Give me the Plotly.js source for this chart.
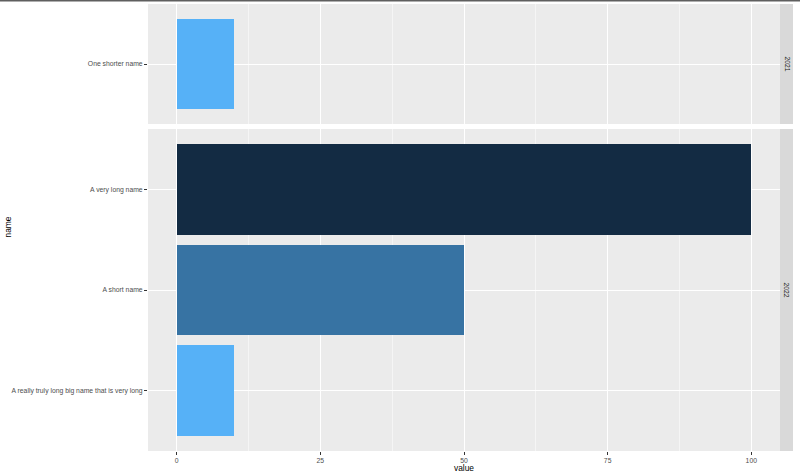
<!DOCTYPE html>
<html>
<head>
<meta charset="utf-8">
<script src="https://cdn.plot.ly/plotly-3.0.1.min.js"></script>
<style>html,body{margin:0;padding:0;background:#fff;}#chart{width:800px;height:476px;}</style>
</head>
<body>
<div id="chart"></div>
<script>
// ---- data ----
const years = ["2021", "2022", "2022", "2022"];
const names = ["One shorter name", "A very long name", "A short name", "A really truly long big name that is very long"];
const values = [10, 100, 50, 10];
const xTicks = [0, 25, 50, 75, 100];

// ---- layout helpers ----
const W = 800, H = 476;
const px = v => v / W;
const py = v => 1 - v / H;

function pick(year) {
  const idx = years.map((y, i) => y === year ? i : -1).filter(i => i >= 0);
  return { y: idx.map(i => names[i]), x: idx.map(i => values[i]) };
}
const p21 = pick("2021"), p22 = pick("2022");

const cs = [[0, '#56B1F7'], [0.4444, '#3773A3'], [1, '#132B43']];
const vmin = Math.min(...values), vmax = Math.max(...values);

function barTrace(d, xa, ya) {
  return {
    type: 'bar', orientation: 'h', x: d.x, y: d.y, width: 0.9,
    xaxis: xa, yaxis: ya,
    marker: { color: d.x, colorscale: cs, cmin: vmin, cmax: vmax, showscale: false, line: { width: 0 } },
    hoverinfo: 'x+y'
  };
}

const font = { family: 'Liberation Sans, Arial, sans-serif' };
const tickFont = { family: font.family, size: 6.8, color: '#4D4D4D' };

const xBase = {
  range: [-5, 105], tickvals: xTicks, ticktext: xTicks.map(String),
  showgrid: true, gridcolor: '#FFFFFF', gridwidth: 1,
  minor: { dtick: 12.5, tick0: 0, showgrid: true, gridcolor: '#FFFFFF', gridwidth: 0.5, ticks: '' },
  zeroline: false, showline: false, fixedrange: true,
  domain: [px(148), px(780)]
};
const yBase = {
  type: 'category', categoryorder: 'category ascending',
  showgrid: true, gridcolor: '#FFFFFF', gridwidth: 1,
  zeroline: false, showline: false, fixedrange: true,
  ticks: 'outside', ticklen: 3, tickwidth: 1, tickcolor: '#333333',
  tickfont: tickFont, automargin: false
};

const layout = {
  width: W, height: H,
  margin: { l: 0, r: 0, t: 0, b: 0, pad: 0 },
  paper_bgcolor: '#FFFFFF', plot_bgcolor: '#EBEBEB',
  showlegend: false, bargap: 0,
  font: font,
  xaxis: Object.assign({}, xBase, {
    anchor: 'y', ticks: 'outside', ticklen: 3, tickwidth: 1, tickcolor: '#333333',
    tickfont: tickFont, automargin: false
  }),
  xaxis2: Object.assign({}, xBase, { anchor: 'y2', matches: 'x', showticklabels: false, ticks: '' }),
  yaxis: Object.assign({}, yBase, { anchor: 'x', domain: [py(451), py(129)], range: [-0.6, 2.6] }),
  yaxis2: Object.assign({}, yBase, { anchor: 'x2', domain: [py(124), py(4)], range: [-0.6, 0.6] }),
  shapes: [
    // strips
    { type: 'rect', xref: 'paper', yref: 'paper', x0: px(780), x1: px(793), y0: py(124), y1: py(4),
      fillcolor: '#D9D9D9', line: { width: 0 }, layer: 'below' },
    { type: 'rect', xref: 'paper', yref: 'paper', x0: px(780), x1: px(793), y0: py(451), y1: py(129),
      fillcolor: '#D9D9D9', line: { width: 0 }, layer: 'below' },
    // top border line
    { type: 'rect', xref: 'paper', yref: 'paper', x0: 0, x1: 1, y0: py(1.5), y1: 1,
      fillcolor: '#5F5F5F', line: { width: 0 } }
  ],
  annotations: [
    { text: '2021', xref: 'paper', yref: 'paper', x: px(786.5), y: py(64), showarrow: false, textangle: 90,
      font: { family: font.family, size: 6.8, color: '#1A1A1A' }, xanchor: 'center', yanchor: 'middle' },
    { text: '2022', xref: 'paper', yref: 'paper', x: px(786.5), y: py(290), showarrow: false, textangle: 90,
      font: { family: font.family, size: 6.8, color: '#1A1A1A' }, xanchor: 'center', yanchor: 'middle' },
    { text: 'name', xref: 'paper', yref: 'paper', x: px(7), y: py(227.5), showarrow: false, textangle: -90,
      font: { family: font.family, size: 8.4, color: '#000000' }, xanchor: 'center', yanchor: 'middle' },
    { text: 'value', xref: 'paper', yref: 'paper', x: px(464), y: py(468), showarrow: false,
      font: { family: font.family, size: 8.4, color: '#000000' }, xanchor: 'center', yanchor: 'middle' }
  ]
};

Plotly.newPlot('chart', [barTrace(p22, 'x', 'y'), barTrace(p21, 'x2', 'y2')], layout, { displayModeBar: false, staticPlot: true });
</script>
</body>
</html>
